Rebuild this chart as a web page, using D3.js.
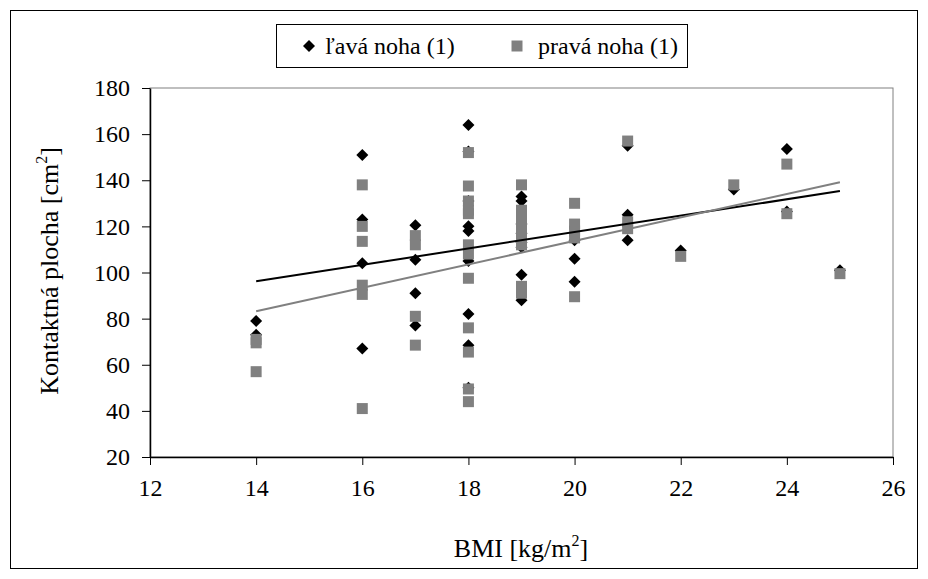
<!DOCTYPE html>
<html>
<head>
<meta charset="utf-8">
<script src="https://cdn.jsdelivr.net/npm/d3@7"></script>
<style>
  body { margin: 0; background: #fff; }
  svg text { font-family: "Liberation Serif", "Times New Roman", "DejaVu Serif", serif !important; }
</style>
</head>
<body>
<div id="chart"></div>
<script>
// chart size
const width = 928;
const height = 579;
const serif = '"Liberation Serif", "Times New Roman", "DejaVu Serif", serif';

// BMI / contact area readings, left foot (diamonds)
const leftBmi = [14, 14, 16, 16, 16, 16, 17, 17, 17, 17,
  18, 18, 18, 18, 18, 18, 18, 18, 18,
  19, 19, 19, 19, 19, 19, 19, 19,
  20, 20, 20, 21, 21, 21, 22, 23, 24, 24, 25];
const leftArea = [79, 73, 151, 123, 104, 67, 120.5, 105.5, 91, 77,
  164, 152.5, 131, 120, 118, 105, 82, 68.5, 50,
  133, 131, 121, 117, 113, 111, 99, 88,
  114, 106, 96, 155, 125, 114, 109.5, 136, 153.5, 126.5, 101];

// right foot (squares)
const rightBmi = [14, 14, 14, 16, 16, 16, 16, 16, 16, 17, 17, 17, 17,
  18, 18, 18, 18, 18, 18, 18, 18, 18, 18, 18, 18,
  19, 19, 19, 19, 19, 19, 19, 19, 19,
  20, 20, 20, 20, 20, 21, 21, 21, 22, 23, 24, 24, 25];
const rightArea = [71, 69.5, 57, 138, 120, 113.5, 94.5, 90.5, 41, 116, 112, 81, 68.5,
  152, 137.5, 131, 127, 125.5, 112, 108, 97.5, 76, 65.5, 49.5, 44,
  138, 127, 124, 121, 118, 115, 112, 94, 91,
  130, 121, 118, 115, 89.5, 157, 122, 119, 107, 138, 147, 125.5, 99.5];

// linear trend lines (end points)
const leftTrend = [[14, 96.2], [25, 135.3]];
const rightTrend = [[14, 83.2], [25, 139.1]];

const xTicks = [12, 14, 16, 18, 20, 22, 24, 26];
const yTicks = [20, 40, 60, 80, 100, 120, 140, 160, 180];
const legendLabels = ["ľavá noha (1)", "pravá noha (1)"];

const grey = "#808080";

const svg = d3.select("#chart")
  .append("svg")
  .attr("width", width)
  .attr("height", height)
  .style("font-family", serif);

// outer chart frame
svg.append("rect")
  .attr("x", 10.5).attr("y", 10.5)
  .attr("width", 907).attr("height", 558)
  .attr("fill", "#fff")
  .attr("stroke", "#000")
  .attr("stroke-width", 1);

const x = d3.scaleLinear().domain([12, 26]).range([150, 893]);
const y = d3.scaleLinear().domain([20, 180]).range([457, 88]);

// plot area border (grey, Excel style)
svg.append("rect")
  .attr("x", x(12)).attr("y", y(180))
  .attr("width", x(26) - x(12)).attr("height", y(20) - y(180))
  .attr("fill", "none")
  .attr("stroke", grey)
  .attr("stroke-width", 1);

// axes
const xAxis = svg.append("g")
  .attr("transform", `translate(0,${y(20)})`)
  .call(d3.axisBottom(x).tickValues(xTicks).tickSizeInner(8).tickSizeOuter(0).tickPadding(14));
const yAxis = svg.append("g")
  .attr("transform", `translate(${x(12)},0)`)
  .call(d3.axisLeft(y).tickValues(yTicks).tickSizeInner(8).tickSizeOuter(0).tickPadding(12));

[xAxis, yAxis].forEach((g) => {
  g.attr("font-family", null);
  g.select(".domain").attr("stroke", "#000").attr("stroke-width", 1.5);
  g.selectAll(".tick line").attr("stroke", "#000");
  g.selectAll(".tick text")
    .style("font-family", serif)
    .attr("font-size", 24)
    .attr("fill", "#000");
});

// marker shapes
const diamond = d3.symbol(d3.symbolSquare, 72);
const square = d3.symbol(d3.symbolSquare, 121);

// left foot points
svg.append("g")
  .selectAll("path")
  .data(leftBmi.map((b, i) => [b, leftArea[i]]))
  .join("path")
  .attr("d", diamond)
  .attr("transform", (d) => `translate(${x(d[0])},${y(d[1])}) rotate(45)`)
  .attr("fill", "#000");

// right foot points (drawn over)
svg.append("g")
  .selectAll("path")
  .data(rightBmi.map((b, i) => [b, rightArea[i]]))
  .join("path")
  .attr("d", square)
  .attr("transform", (d) => `translate(${x(d[0])},${y(d[1])})`)
  .attr("fill", grey);

// trend lines
const line = d3.line().x((d) => x(d[0])).y((d) => y(d[1]));
svg.append("path").datum(leftTrend)
  .attr("d", line).attr("fill", "none")
  .attr("stroke", "#000").attr("stroke-width", 2);
svg.append("path").datum(rightTrend)
  .attr("d", line).attr("fill", "none")
  .attr("stroke", grey).attr("stroke-width", 2);

// axis titles
const xTitle = svg.append("text")
  .attr("x", 521).attr("y", 557)
  .attr("text-anchor", "middle")
  .style("font-family", serif)
  .attr("font-size", 26);
xTitle.append("tspan").text("BMI [kg/m");
xTitle.append("tspan").attr("font-size", 16).attr("dy", -11).text("2");
xTitle.append("tspan").attr("dy", 11).text("]");

const yTitle = svg.append("text")
  .attr("transform", "translate(58,271) rotate(-90)")
  .attr("text-anchor", "middle")
  .style("font-family", serif)
  .attr("font-size", 26);
yTitle.append("tspan").text("Kontaktná plocha [cm");
yTitle.append("tspan").attr("font-size", 16).attr("dy", -11).text("2");
yTitle.append("tspan").attr("dy", 11).text("]");

// legend
const legend = svg.append("g");
legend.append("rect")
  .attr("x", 276.5).attr("y", 24.5)
  .attr("width", 411).attr("height", 43)
  .attr("fill", "#fff").attr("stroke", "#000").attr("stroke-width", 1);
legend.append("path")
  .attr("d", diamond)
  .attr("transform", "translate(309,46) rotate(45)")
  .attr("fill", "#000");
legend.append("path")
  .attr("d", square)
  .attr("transform", "translate(517,46)")
  .attr("fill", grey);
legend.append("text").attr("x", 325).attr("y", 54)
  .style("font-family", serif)
  .attr("font-size", 24).text(legendLabels[0]);
legend.append("text").attr("x", 538).attr("y", 54)
  .style("font-family", serif)
  .attr("font-size", 24).text(legendLabels[1]);
</script>
</body>
</html>
